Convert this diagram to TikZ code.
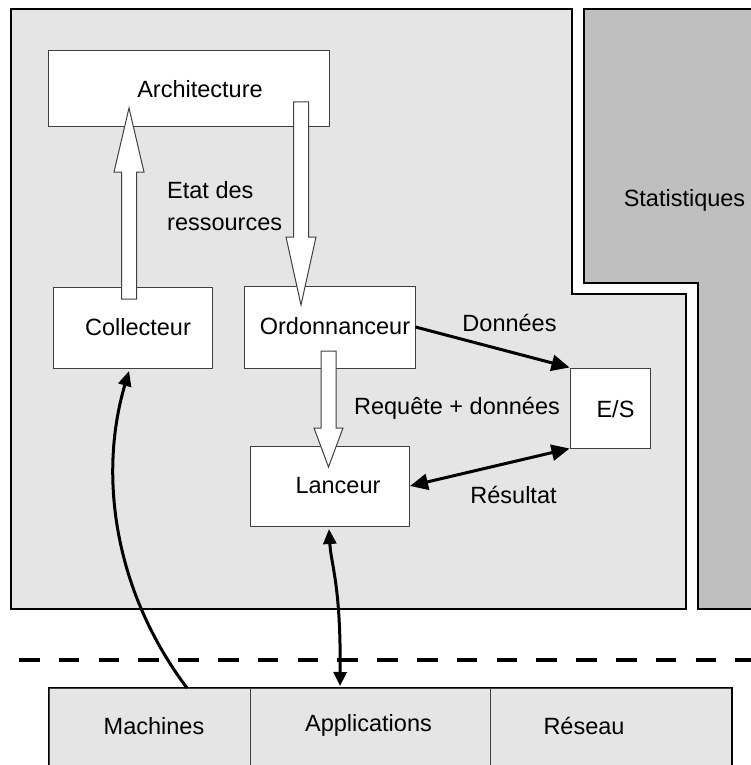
\documentclass[tikz,border=0pt]{standalone}
\usepackage{fontspec}
\setmainfont{Liberation Sans}
\usetikzlibrary{arrows.meta}
\definecolor{regfill}{HTML}{E5E5E5}
\definecolor{statfill}{HTML}{BFBFBF}
\definecolor{boxline}{HTML}{404040}
\begin{document}
\begin{tikzpicture}[x=1pt,y=-1pt,
  box/.style={draw=boxline, line width=1pt, fill=white, inner sep=0pt},
  cell/.style={draw=boxline, line width=1pt, fill=regfill, inner sep=0pt, minimum height=87pt},
  lbl/.style={font=\fontsize{23.5}{28}\selectfont, inner sep=0pt, text height=17pt, text depth=0pt},
  hollow/.style={draw=boxline, line width=1pt, fill=white, line join=miter},
  region/.style={draw=black, line width=2pt, line join=miter},
  bigarrow/.style={line width=3pt, -{Triangle[length=18pt,width=16pt]}},
  bigboth/.style={line width=3pt, {Triangle[length=18pt,width=16pt]}-{Triangle[length=18pt,width=16pt]}},
  curvearrow/.style={line width=3pt, -{Triangle[length=15pt,width=13pt]}},
  curveboth/.style={line width=3pt, {Triangle[length=15pt,width=13pt]}-{Triangle[length=14pt,width=13pt]}},
  sep/.style={line width=4.5pt, dash pattern=on 20.5pt off 19.3pt}
]
\useasboundingbox (0,0) rectangle (751,765);
\fill[white] (0,0) rectangle (751,765);

% regions
\draw[region, fill=regfill] (10.5,9.5) -- (572,9.5) -- (572,294) -- (686,294) -- (686,609) -- (10.5,609) -- cycle;
\draw[region, fill=statfill] (584,9.5) -- (765,9.5) -- (765,609) -- (698,609) -- (698,283) -- (584,283) -- cycle;
\node[lbl] (stat) at (684.5,198) {Statistiques};

% boxes
\node[box, minimum width=281.5pt, minimum height=76pt] (arch) at (189,89) {};
\node[lbl] (tarch) at (200,89) {Architecture};
\node[box, minimum width=159pt, minimum height=81pt] (coll) at (132.5,327.5) {};
\node[lbl] (tcoll) at (138,327) {Collecteur};
\node[box, minimum width=171pt, minimum height=82pt] (ordo) at (329.5,327) {};
\node[lbl] (tordo) at (335,325.5) {Ordonnanceur};
\node[box, minimum width=80pt, minimum height=80pt] (es) at (610,408) {};
\node[lbl] (tes) at (615.5,409) {E/S};
\node[box, minimum width=159.5pt, minimum height=80pt] (lance) at (329.75,486) {};
\node[lbl] (tlance) at (338,485) {Lanceur};

% hollow arrows
\draw[hollow] (121.5,299) -- (121.5,172) -- (114,172) -- (129,108) -- (144,172) -- (136.5,172) -- (136.5,299) -- cycle;
\draw[hollow] (293.5,102) -- (293.5,237) -- (286,237) -- (301,305) -- (316,237) -- (308.5,237) -- (308.5,102) -- cycle;
\draw[hollow] (321,351) -- (321,428) -- (314,428) -- (328.5,467) -- (343,428) -- (336,428) -- (336,351) -- cycle;

% labels
\node[lbl, anchor=west] (etat1) at (167,190) {Etat des};
\node[lbl, anchor=west] (etat2) at (167,221.5) {ressources};
\node[lbl] (ldon) at (509.5,323) {Données};
\node[lbl] (lreq) at (457,405.5) {Requête + données};
\node[lbl] (lres) at (513.5,495) {Résultat};

% thick arrows
\draw[bigarrow] (ordo.east) -- (es.north west);
\draw[bigboth] (lance.east) -- (es.south west);

% separator
\coordinate (sepL) at (19,660);
\coordinate (sepR) at (760,660);
\draw[sep] (sepL) -- (sepR);

% table
\node[cell, minimum width=201pt] (cmach) at (149.5,731.5) {};
\node[cell, minimum width=240.5pt] (capp) at (370.25,731.5) {};
\node[cell, minimum width=241pt] (cres) at (611,731.5) {};
\draw[line width=1.5pt] (cmach.south west) rectangle (cres.north east);
\node[lbl] (tmach) at (154,725.5) {Machines};
\node[lbl] (tapp) at (368.5,723) {Applications};
\node[lbl] (tres) at (584,726) {Réseau};

% curved arrows
\coordinate (mstart) at (187,688);
\coordinate (cend) at (129,371);
\draw[curvearrow] (mstart) .. controls (112,588) and (99,472) .. (cend);
\coordinate (lstart) at (329,529);
\coordinate (aend) at (340,686);
\draw[curveboth] (lstart) .. controls (331,565) and (341,585) .. (aend);
\end{tikzpicture}
\end{document}
